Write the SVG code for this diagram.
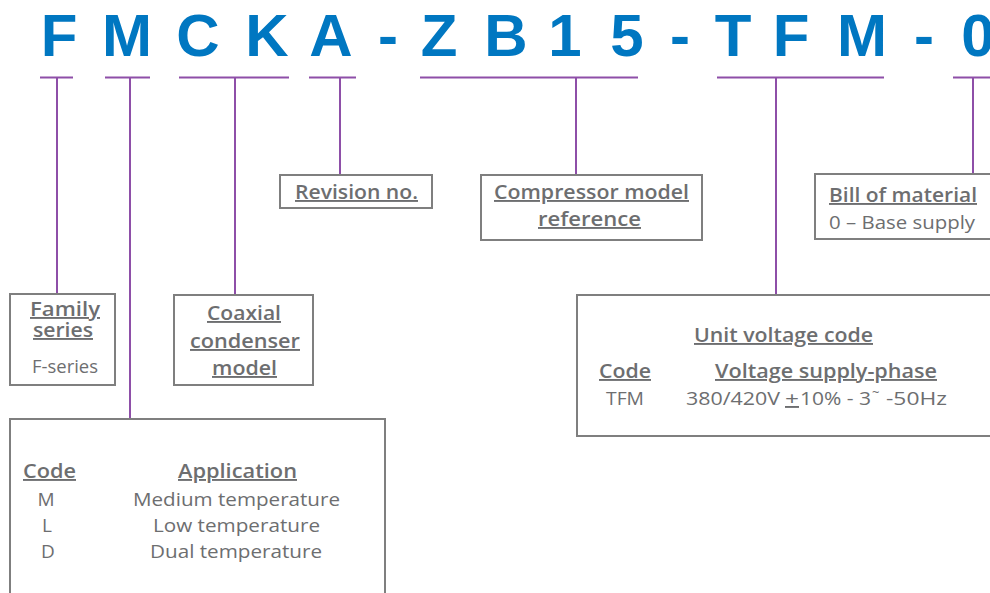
<svg xmlns="http://www.w3.org/2000/svg" width="990" height="593" viewBox="0 0 990 593">
<style>
.big{font-family:"Liberation Sans",Arial,sans-serif;font-weight:bold;font-size:60px;fill:#0077c1;text-anchor:middle}
.con{stroke:#8e4fa8;stroke-width:2;fill:none}
.box{fill:#fff;stroke:#7f7f7f;stroke-width:2}
.t{font-family:"Open Sans","Noto Sans",sans-serif;font-size:19px;fill:#6d6e70}
.h{font-family:"Open Sans","Noto Sans",sans-serif;font-size:19px;fill:#6d6e70;font-weight:600;text-decoration:underline}
</style>
<rect width="990" height="593" fill="#fff"/>
<g id="code">
<text class="big" x="59" y="56">F</text>
<text class="big" x="127" y="56">M</text>
<text class="big" x="198" y="56">C</text>
<text class="big" x="267" y="56">K</text>
<text class="big" x="331" y="56">A</text>
<text class="big" x="388" y="56">-</text>
<text class="big" x="439" y="56">Z</text>
<text class="big" x="506" y="56">B</text>
<text class="big" x="565" y="56">1</text>
<text class="big" x="627" y="56">5</text>
<text class="big" x="680" y="56">-</text>
<text class="big" x="733" y="56">T</text>
<text class="big" x="791" y="56">F</text>
<text class="big" x="862" y="56">M</text>
<text class="big" x="924" y="56">-</text>
<text class="big" x="978" y="56">0</text>
</g>
<g id="connectors">
<path class="con" d="M40 77.5H73M57 77.5V294"/>
<path class="con" d="M105 77.5H150M130 77.5V419"/>
<path class="con" d="M179 77.5H289M235 77.5V295"/>
<path class="con" d="M309 77.5H356M340 77.5V175"/>
<path class="con" d="M420 77.5H638M576 77.5V175"/>
<path class="con" d="M717 77.5H884M776 77.5V295"/>
<path class="con" d="M953 77.5H990M973 77.5V174"/>
</g>
<g id="family">
<rect class="box" x="10" y="294" width="105" height="91"/>
<text class="h" font-size="18"><tspan x="30" y="316" textLength="70" lengthAdjust="spacingAndGlyphs">Family</tspan><tspan x="33" y="337" textLength="60" lengthAdjust="spacingAndGlyphs">series</tspan></text>
<text class="t" x="32" y="373" textLength="66" lengthAdjust="spacingAndGlyphs">F-series</text>
</g>
<g id="coaxial">
<rect class="box" x="174" y="295" width="139" height="90"/>
<text class="h" x="207" y="320" textLength="74" lengthAdjust="spacingAndGlyphs">Coaxial</text>
<text class="h" x="190" y="348" textLength="110" lengthAdjust="spacingAndGlyphs">condenser </text>
<text class="h" x="212" y="375" textLength="65" lengthAdjust="spacingAndGlyphs">model</text>
</g>
<g id="revision">
<rect class="box" x="280" y="175" width="152" height="33"/>
<text class="h" x="295" y="199" textLength="123" lengthAdjust="spacingAndGlyphs">Revision no.</text>
</g>
<g id="compressor">
<rect class="box" x="481" y="175" width="221" height="65"/>
<text class="h" x="494" y="199" textLength="195" lengthAdjust="spacingAndGlyphs">Compressor model</text>
<text class="h" x="538" y="226" textLength="103" lengthAdjust="spacingAndGlyphs">reference</text>
</g>
<g id="bill">
<rect class="box" x="815" y="174" width="185" height="65"/>
<text class="h" x="829" y="202" textLength="148" lengthAdjust="spacingAndGlyphs">Bill of material</text>
<text class="t" x="829" y="229" textLength="146" lengthAdjust="spacingAndGlyphs">0 – Base supply</text>
</g>
<g id="voltage">
<rect class="box" x="577" y="295" width="423" height="141"/>
<text class="h" x="694" y="342" textLength="179" lengthAdjust="spacingAndGlyphs">Unit voltage code</text>
<text class="h" x="599" y="378" textLength="52" lengthAdjust="spacingAndGlyphs">Code</text>
<text class="h" x="715" y="378" textLength="222" lengthAdjust="spacingAndGlyphs">Voltage supply-phase</text>
<text class="t" x="606" y="405" textLength="38" lengthAdjust="spacingAndGlyphs">TFM</text>
<text class="t" x="686" y="405" textLength="94" lengthAdjust="spacingAndGlyphs">380/420V</text>
<text class="t" x="785" y="405" textLength="14" lengthAdjust="spacingAndGlyphs" text-decoration="underline">+</text>
<text class="t"><tspan x="800" y="405" textLength="71" lengthAdjust="spacingAndGlyphs">10% - 3</tspan><tspan x="872" y="397" font-size="13">~</tspan><tspan x="886" y="405" textLength="61" lengthAdjust="spacingAndGlyphs">-50Hz</tspan></text>
</g>
<g id="application">
<rect class="box" x="10" y="419" width="375" height="190"/>
<text class="h" x="23" y="478" textLength="53" lengthAdjust="spacingAndGlyphs">Code</text>
<text class="h" x="178" y="478" textLength="119" lengthAdjust="spacingAndGlyphs">Application</text>
<text class="t" x="46" y="506" text-anchor="middle">M</text>
<text class="t" x="47" y="532" text-anchor="middle">L</text>
<text class="t" x="48" y="558" text-anchor="middle">D</text>
<text class="t" x="133" y="506" textLength="207" lengthAdjust="spacingAndGlyphs">Medium temperature</text>
<text class="t" x="153" y="532" textLength="167" lengthAdjust="spacingAndGlyphs">Low temperature</text>
<text class="t" x="150" y="558" textLength="172" lengthAdjust="spacingAndGlyphs">Dual temperature</text>
</g>
</svg>
